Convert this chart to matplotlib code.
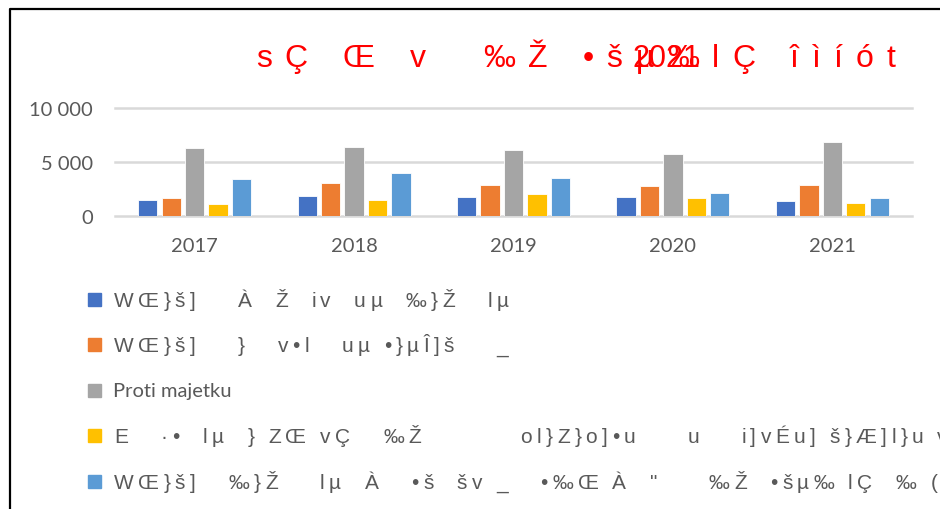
import matplotlib
matplotlib.use("Agg")
from matplotlib import pyplot as plt
from matplotlib.lines import Line2D
from matplotlib.patches import Rectangle
import numpy as np

# hodnoty po letech
roky = ["2017", "2018", "2019", "2020", "2021"]
verejny_poradek = [1500, 1810, 1790, 1720, 1380]
obcanske_souziti = [1690, 3040, 2900, 2800, 2855]
majetek = [6330, 6355, 6120, 5770, 6880]
alkohol = [1075, 1475, 2070, 1630, 1200]
statni_sprava = [3470, 3960, 3520, 2150, 1660]

# popisky tak, jak se vykreslily (rozbite kodovani fontu)
titulek = "sÇ Œ v  ‰Ž •šµ‰lÇ îìíót"
titulek_rok = "2021"
popisky = [
    "WŒ}š]    À  Ž  iv  uµ  ‰}Ž   lµ",
    "WŒ}š]    }   v•l   uµ •}µÎ]š    _",
    "Proti majetku",
    "E   ·•  lµ  } ZŒ vÇ   ‰Ž          ol}Z}o]•u     u    i]vÉu] š}Æ]l}u v] u]",
    "WŒ}š]   ‰}Ž    lµ  À   •š  šv _   •‰Œ À  \"     ‰Ž  •šµ‰ lÇ  ‰ (",
]
barvy = ["#4472C4", "#ED7D31", "#A5A5A5", "#FFC000", "#5B9BD5"]

W, H = 940, 510
fig = plt.figure(figsize=(W / 100, H / 100), dpi=100)
renderer = fig.canvas.get_renderer()

pismo = "Liberation Sans"
seda = "#595959"


def proklad_text(x, y, s, krok, mezera, **kw):
    # text s rozestupem mezi znaky, x/y v pixelech od leveho horniho rohu
    for ch in s:
        if ch == " ":
            x += mezera
            continue
        t = fig.text(x / W, 1 - y / H, ch, ha="left", va="baseline", **kw)
        x += t.get_window_extent(renderer).width + krok


# ramecek grafu
fig.add_artist(Line2D([10 / W, 10 / W, 1.0], [0.0, 1 - 10 / H, 1 - 10 / H],
                      transform=fig.transFigure, color="black", lw=1.6))

ax = fig.add_axes([115 / W, 1 - 217 / H, (912 - 115) / W, 108 / H])
serie = [verejny_poradek, obcanske_souziti, majetek, alkohol, statni_sprava]
x = np.arange(len(roky))
slot = 0.147
for i, (hodnoty, barva) in enumerate(zip(serie, barvy)):
    ax.bar(x + (i - 2) * slot, hodnoty, 0.121, color=barva,
           edgecolor="white", linewidth=0.6, zorder=3)

ticky = [0, 5000, 10000]
for v in ticky:
    ax.axhline(v, color="#d9d9d9", lw=1.8, zorder=1, clip_on=False)
ax.set_xlim(-0.5, len(roky) - 0.5)
ax.set_ylim(0, 10000)
ax.set_yticks(ticky)
ax.set_yticklabels([f"{v:,}".replace(",", " ") for v in ticky])
ax.set_xticks(x)
ax.set_xticklabels(roky)
ax.tick_params(length=0, labelsize=14.5, labelcolor=seda)
ax.tick_params(axis="y", pad=16)
ax.tick_params(axis="x", pad=15)
for lab in ax.get_xticklabels() + ax.get_yticklabels():
    lab.set_family("Lato")
for s in ax.spines.values():
    s.set_visible(False)

# titulek
proklad_text(256, 67, titulek, 13, 22, color="red", fontsize=23, family=pismo)
fig.text(633 / W, 1 - 67 / H, titulek_rok, ha="left", va="baseline",
         color="red", fontsize=22, family=pismo)

# legenda
for i, (text, barva) in enumerate(zip(popisky, barvy)):
    yc = 300 + i * 45.5
    fig.add_artist(Rectangle((88 / W, 1 - (yc + 6.5) / H), 13 / W, 13 / H,
                             transform=fig.transFigure, color=barva))
    if text == "Proti majetku":
        fig.text(113 / W, 1 - (yc + 6) / H, text, ha="left", va="baseline",
                 color=seda, fontsize=14.5, family="Lato")
    else:
        proklad_text(114, yc + 7, text, 4.4, 9.5, color=seda, fontsize=15, family=pismo)

fig.savefig("out.png", dpi=100)
